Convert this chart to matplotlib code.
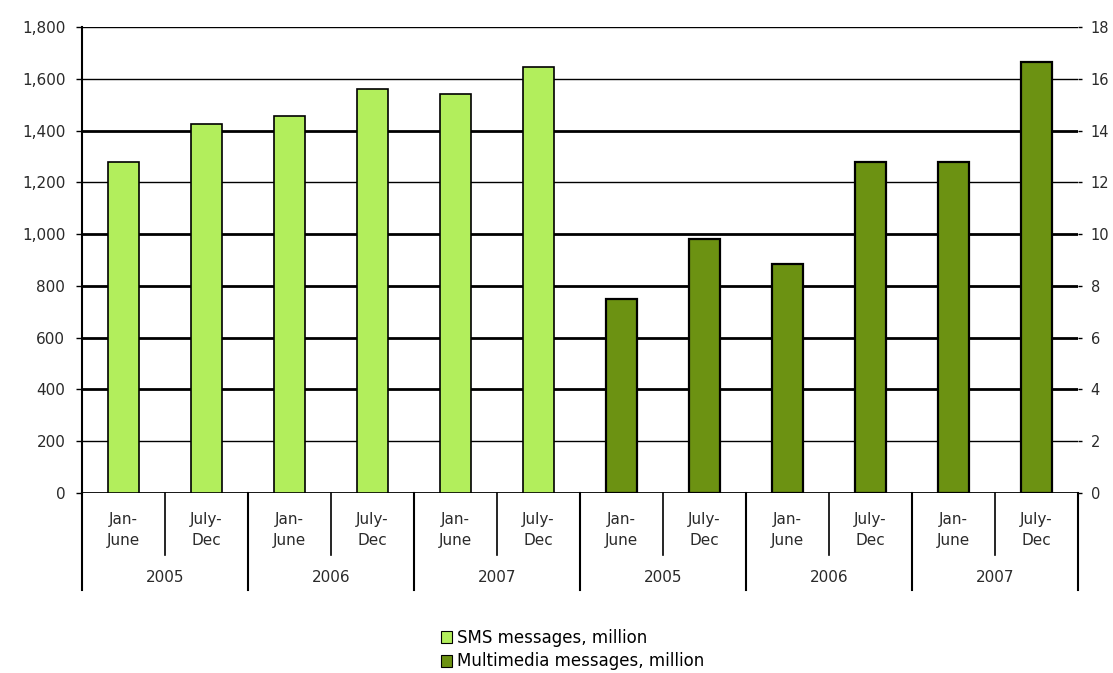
import matplotlib.pyplot as plt
import numpy as np
from matplotlib.patches import Patch

# data
periods = ["Jan-\nJune", "July-\nDec"] * 6
years = ["2005", "2006", "2007", "2005", "2006", "2007"]
sms_million = [1280, 1425, 1455, 1560, 1540, 1645]
mms_million = [7.5, 9.8, 8.85, 12.8, 12.8, 16.65]
left_ticks = [0, 200, 400, 600, 800, 1000, 1200, 1400, 1600, 1800]
right_ticks = [0, 2, 4, 6, 8, 10, 12, 14, 16, 18]

SMS_COLOR = "#B2EE5C"
MMS_COLOR = "#6C9212"
TEXT = "#2A2A2A"

plt.rcParams["font.family"] = "DejaVu Sans"
plt.rcParams["font.size"] = 11

fig = plt.figure(figsize=(11.13, 6.73), dpi=100)
ax = fig.add_axes([82 / 1113, 180 / 673, 996 / 1113, 466 / 673])
ax2 = ax.twinx()

n = len(periods)
x = np.arange(n)
bar_w = 0.37

ax.set_xlim(-0.5, n - 0.5)
ax.set_ylim(0, 1800)
ax2.set_ylim(0, 18)

# grid lines (some heavier, as in the source image)
heavy = {0, 400, 600, 800, 1000, 1400}
for t in left_ticks:
    ax.axhline(t, color="black", lw=2.0 if t in heavy else 1.0, zorder=1)

ax.bar(x[:6], sms_million, width=bar_w, color=SMS_COLOR,
       edgecolor="black", linewidth=1.2, zorder=3)
ax2.bar(x[6:], mms_million, width=bar_w, color=MMS_COLOR,
        edgecolor="black", linewidth=1.6, zorder=3)

ax.set_yticks(left_ticks)
ax.set_yticklabels([f"{t:,}" for t in left_ticks], color=TEXT, fontsize=11)
ax2.set_yticks(right_ticks)
ax2.set_yticklabels([str(t) for t in right_ticks], color=TEXT, fontsize=10.5)
ax.tick_params(axis="y", length=4, width=1, pad=8)
ax2.tick_params(axis="y", length=3, width=1, pad=6)
ax.set_xticks([])

for a in (ax, ax2):
    for s in ("top", "right", "bottom"):
        a.spines[s].set_visible(False)
ax2.spines["left"].set_visible(False)
ax.spines["left"].set_linewidth(1.5)

# two-level category axis below the plot
tr = ax.get_xaxis_transform()
month_bottom = -0.133
year_bottom = -0.208
for i, lab in enumerate(periods):
    ax.text(x[i], -0.08, lab, transform=tr, ha="center", va="center",
            fontsize=11, color=TEXT, linespacing=1.5)
for k in range(n // 2):
    ax.plot([2 * k + 0.5] * 2, [0, month_bottom], transform=tr,
            color="black", lw=1.2, clip_on=False)
for k in range(n // 2 + 1):
    ax.plot([2 * k - 0.5] * 2, [0, year_bottom], transform=tr,
            color="black", lw=1.5, clip_on=False)
for k, yr in enumerate(years):
    ax.text(2 * k + 0.5, -0.182, yr, transform=tr, ha="center", va="center",
            fontsize=11, color=TEXT)

handles = [
    Patch(facecolor=SMS_COLOR, edgecolor="black", linewidth=0.8),
    Patch(facecolor=MMS_COLOR, edgecolor="black", linewidth=0.8),
]
fig.legend(handles, ["SMS messages, million", "Multimedia messages, million"],
           loc="upper left", bbox_to_anchor=(434 / 1113, 1 - 622 / 673),
           frameon=False, handlelength=0.7, handleheight=0.7,
           handletextpad=0.3, labelspacing=0.35, fontsize=12,
           borderaxespad=0)

fig.savefig("out.png", dpi=100)
